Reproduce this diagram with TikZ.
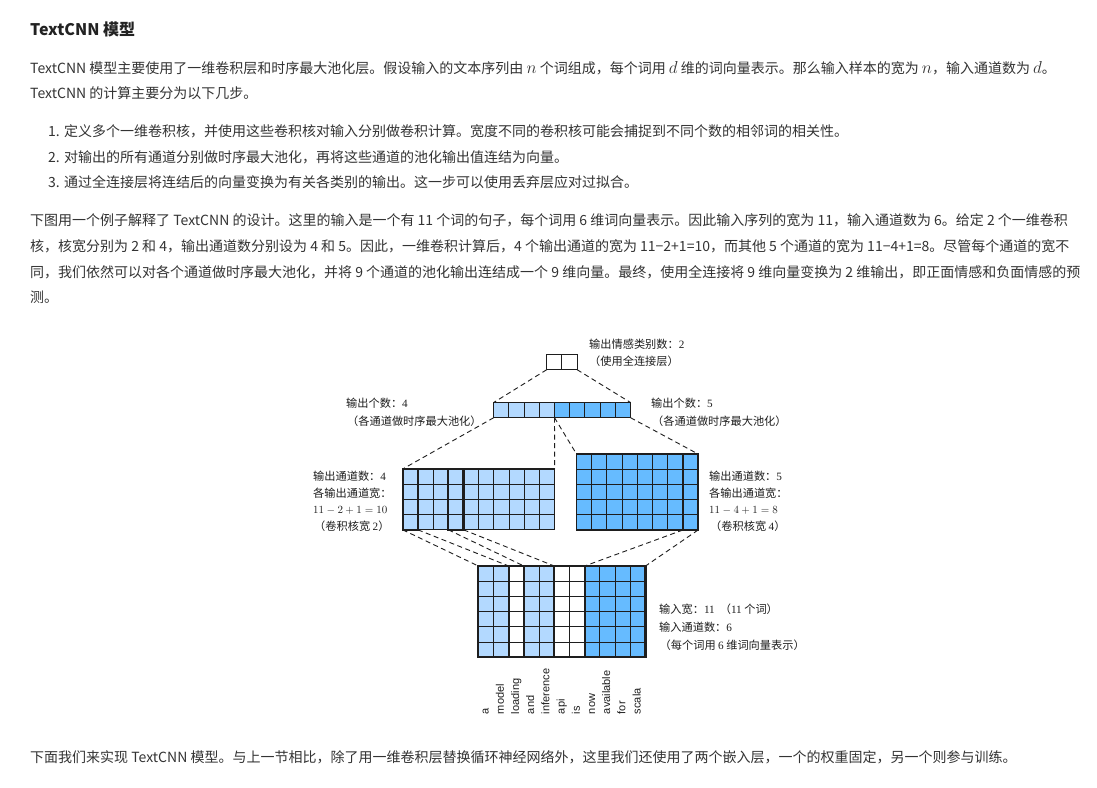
\documentclass[tikz,border=0pt]{standalone}
\usepackage{fontspec}
\setmainfont{Noto Sans CJK SC}
\newfontfamily\lsans{Liberation Sans}
\newfontfamily\lserif{Liberation Serif}
\definecolor{txt}{RGB}{51,51,51}
\definecolor{ttl}{RGB}{34,34,34}
\definecolor{lb}{RGB}{179,217,255}
\definecolor{db}{RGB}{102,187,255}
\definecolor{gl}{RGB}{30,30,30}
\newcommand\dg[1]{{\lserif #1}}
\newcommand\mv[1]{{\fontsize{16.5}{18}\selectfont$#1$}}
\def\cs{15.2}
\newcommand\mkgrid[5]{%
  \foreach \i in {0,...,#4}{%
    \coordinate (#1T\i) at ({#2+\i*\cs},#3);
    \coordinate (#1B\i) at ({#2+\i*\cs},{#3+#5*\cs});
    \draw[gridline] (#1T\i) -- (#1B\i);}
  \foreach \j in {0,...,#5}{\draw[gridline] (#2,{#3+\j*\cs}) -- ++({#4*\cs},0);}
  \draw[outline] (#2,#3) rectangle ++({#4*\cs},{#5*\cs});
}
\begin{document}
\begin{tikzpicture}[x=1pt,y=-1pt,
  body/.style={anchor=base west,inner sep=0,font=\fontsize{14}{16}\selectfont,text=txt},
  ttlstyle/.style={anchor=base west,inner sep=0,font=\fontsize{16}{18}\selectfont\bfseries,text=ttl},
  lab/.style={anchor=base west,inner sep=0,font=\fontsize{11.2}{13}\selectfont,text=gl},
  word/.style={rotate=90,anchor=mid west,inner sep=0,font=\lsans\fontsize{11}{13}\selectfont,text=gl},
  gridline/.style={draw=gl,line width=0.95pt},
  outline/.style={draw=gl,line width=1.2pt},
  thickbox/.style={draw=gl,line width=2.2pt},
  dline/.style={draw=gl,line width=0.9pt,dash pattern=on 5pt off 3.5pt}]
\useasboundingbox[fill=white] (0,0) rectangle (1097,787);

% ---------- body text ----------
\node[ttlstyle] (title) at (30,35) {TextCNN 模型};
\node[body] (p1a) at (30,73.3) {TextCNN 模型主要使用了一维卷积层和时序最大池化层。假设输入的文本序列由 \mv{n} 个词组成，每个词用 \mv{d} 维的词向量表示。那么输入样本的宽为 \mv{n}，输入通道数为 \mv{d}。};
\node[body] (p1b) at (30,98.3) {TextCNN 的计算主要分为以下几步。};
\node[body] (li1) at (48,136.3) {1. 定义多个一维卷积核，并使用这些卷积核对输入分别做卷积计算。宽度不同的卷积核可能会捕捉到不同个数的相邻词的相关性。};
\node[body] (li2) at (48,162.3) {2. 对输出的所有通道分别做时序最大池化，再将这些通道的池化输出值连结为向量。};
\node[body] (li3) at (48,187.3) {3. 通过全连接层将连结后的向量变换为有关各类别的输出。这一步可以使用丢弃层应对过拟合。};
\node[body] (p2a) at (30,225.3) {下图用一个例子解释了 TextCNN 的设计。这里的输入是一个有 11 个词的句子，每个词用 6 维词向量表示。因此输入序列的宽为 11，输入通道数为 6。给定 2 个一维卷积};
\node[body] (p2b) at (30,251.3) {核，核宽分别为 2 和 4，输出通道数分别设为 4 和 5。因此，一维卷积计算后，4 个输出通道的宽为 11−2+1=10，而其他 5 个通道的宽为 11−4+1=8。尽管每个通道的宽不};
\node[body] (p2c) at (30,277.3) {同，我们依然可以对各个通道做时序最大池化，并将 9 个通道的池化输出连结成一个 9 维向量。最终，使用全连接将 9 维向量变换为 2 维输出，即正面情感和负面情感的预};
\node[body] (p2d) at (30,302.3) {测。};
\node[body] (p3) at (30,762.3) {下面我们来实现 TextCNN 模型。与上一节相比，除了用一维卷积层替换循环神经网络外，这里我们还使用了两个嵌入层，一个的权重固定，另一个则参与训练。};

% ---------- fills ----------
% input 11 x 6
\foreach \i/\col in {0/lb,1/lb,2/white,3/lb,4/lb,5/white,6/white,7/db,8/db,9/db,10/db}
  {\fill[\col] ({478.3+\i*\cs},566) rectangle ++(\cs,{6*\cs});}
% left conv 10 x 4
\fill[lb] (402.7,469) rectangle ++({10*\cs},{4*\cs});
% right conv 8 x 5
\fill[db] (576.5,454) rectangle ++({8*\cs},{5*\cs});
% pooled 9 x 1
\fill[lb] (493.7,402.5) rectangle ++({4*\cs},\cs);
\fill[db] ({493.7+4*\cs},402.5) rectangle ++({5*\cs},\cs);
% output 2 x 1
\fill[white] (546.7,354.5) rectangle ++({2*\cs},\cs);

% ---------- grids ----------
\mkgrid{in}{478.3}{566}{11}{6}
\mkgrid{lc}{402.7}{469}{10}{4}
\mkgrid{rc}{576.5}{454}{8}{5}
\mkgrid{pool}{493.7}{402.5}{9}{1}
\mkgrid{out}{546.7}{354.5}{2}{1}

% kernel windows / highlighted channels
\draw[thickbox] (inT0) rectangle (inB11);
\draw[thickbox] (inT0) rectangle (inB2);
\draw[thickbox] (inT3) rectangle (inB5);
\draw[thickbox] (inT7) rectangle (inB11);
\draw[thickbox] (lcT0) rectangle (lcB1);
\draw[thickbox] (lcT3) rectangle (lcB4);
\draw[thickbox] (rcT7) rectangle (rcB8);

% ---------- dashed connectors ----------
\draw[dline] (outB0) -- (poolT0);
\draw[dline] (outB2) -- (poolT9);
\draw[dline] (poolB0) -- (lcT0);
\draw[dline] (poolB4) -- (lcT10);
\draw[dline] (poolB4) -- (rcT0);
\draw[dline] (poolB9) -- (rcT8);
\draw[dline] (lcB0) -- (inT0);
\draw[dline] (lcB1) -- (inT2);
\draw[dline] (lcB3) -- (inT3);
\draw[dline] (lcB4) -- (inT5);
\draw[dline] (rcB7) -- (inT7);
\draw[dline] (rcB8) -- (inT11);

% ---------- labels ----------
\node[lab] (lo1) at (589,348.2) {输出情感类别数：\dg{2}};
\node[lab] (lo2) at (589,365.2) {（使用全连接层）};
\node[lab] (lpl1) at (346,407.2) {输出个数：\dg{4}};
\node[lab] (lpl2) at (347,425.2) {（各通道做时序最大池化）};
\node[lab] (lpr1) at (651,407.2) {输出个数：\dg{5}};
\node[lab] (lpr2) at (652,425.2) {（各通道做时序最大池化）};
\node[lab] (lcl1) at (313,480) {输出通道数：\dg{4}};
\node[lab] (lcl2) at (313,497.5) {各输出通道宽：};
\node[lab] (lcl3) at (313,513) {$11-2+1=10$};
\node[lab] (lcl4) at (314,530.2) {（卷积核宽 \dg{2}）};
\node[lab] (rcl1) at (709,480) {输出通道数：\dg{5}};
\node[lab] (rcl2) at (709,497.5) {各输出通道宽：};
\node[lab] (rcl3) at (709,513) {$11-4+1=8$};
\node[lab] (rcl4) at (710,530.2) {（卷积核宽 \dg{4}）};
\node[lab] (inl1) at (659,613.2) {输入宽：\dg{11} \ （\dg{11} 个词）};
\node[lab] (inl2) at (659,631.5) {输入通道数：\dg{6}};
\node[lab] (inl3) at (659.5,649.2) {（每个词用 \dg{6} 维词向量表示）};

% ---------- words ----------
\foreach \w [count=\i from 0] in {a,model,loading,and,inference,api,is,now,available,for,scala}
  {\node[word] (w\i) at ({478.3+(\i+0.5)*\cs},714.3) {\w};}
\end{tikzpicture}
\end{document}
